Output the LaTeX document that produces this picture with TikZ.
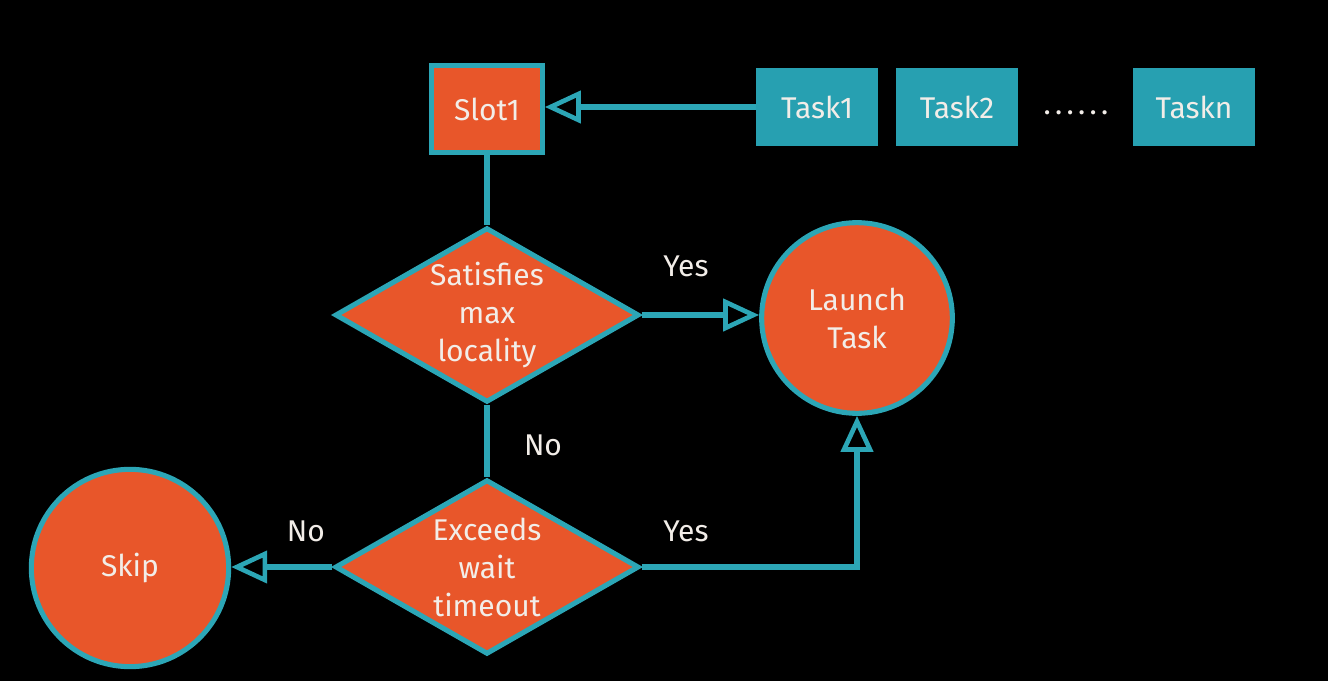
\documentclass[tikz,border=0pt]{standalone}
\usepackage{fontspec}
\setmainfont{Fira Sans}
\usetikzlibrary{shapes.geometric,arrows.meta}
\definecolor{orng}{HTML}{E8562A}
\definecolor{teal2}{HTML}{2CA6B6}
\definecolor{tealbox}{HTML}{27A0B1}
\definecolor{txt}{HTML}{F2EDE8}
\newcommand{\dotk}{.\kern3.2pt}
\begin{document}
\begin{tikzpicture}[x=0.75pt,y=-0.75pt,
  base/.style={font=\fontsize{22.5}{28.5}\selectfont, text=txt, align=center, inner sep=0pt},
  orangebox/.style={base, draw=teal2, fill=orng, line width=3.8pt, minimum width=83pt, minimum height=65pt},
  taskbox/.style={base, fill=tealbox, minimum width=91pt, minimum height=59pt},
  decision/.style={base, diamond, draw=teal2, fill=orng, line width=3.8pt, minimum width=228pt, minimum height=131pt, shape aspect=1.72},
  endpoint/.style={base, circle, draw=teal2, fill=orng, line width=3.8pt},
  conn/.style={draw=teal2, line width=3.8pt},
  arr/.style={conn, -{Triangle[open, length=27pt, width=24pt, line width=3.5pt]}},
  lbl/.style={base}
]
\fill[black] (0,0) rectangle (1328,681);
\useasboundingbox (0,0) rectangle (1328,681);

\node[orangebox] (slot) at (487,109) {Slot1};
\node[taskbox] (t1) at (817,107) {Task1};
\node[taskbox] (t2) at (957,107) {Task2};
\node[base] (dots) at (1076,113) {\dotk\dotk\dotk\dotk\dotk.};
\node[taskbox] (tn) at (1194,107) {Taskn};

\node[decision] (d1) at (487,315) {Satisfies\\max\\locality};
\node[endpoint, minimum size=143pt] (launch) at (857,318) {Launch\\Task};
\node[decision] (d2) at (487,567) {Exceeds\\wait\\timeout};
\node[endpoint, minimum size=148pt] (skip) at (130,568) {Skip};

\draw[arr] (t1.west) -- (slot.east |- t1.west);
\draw[conn] (slot.south) -- (d1.north);
\draw[arr] (d1.east) -- (launch.west |- d1.east);
\draw[conn] (d1.south) -- (d2.north);
\draw[arr] (d2.east) -| (launch.south);
\draw[arr] (d2.west) -- (skip.east |- d2.west);

\node[lbl] at (686,266) {Yes};
\node[lbl] at (543,445) {No};
\node[lbl] at (686,531) {Yes};
\node[lbl] at (306,531) {No};
\end{tikzpicture}
\end{document}
